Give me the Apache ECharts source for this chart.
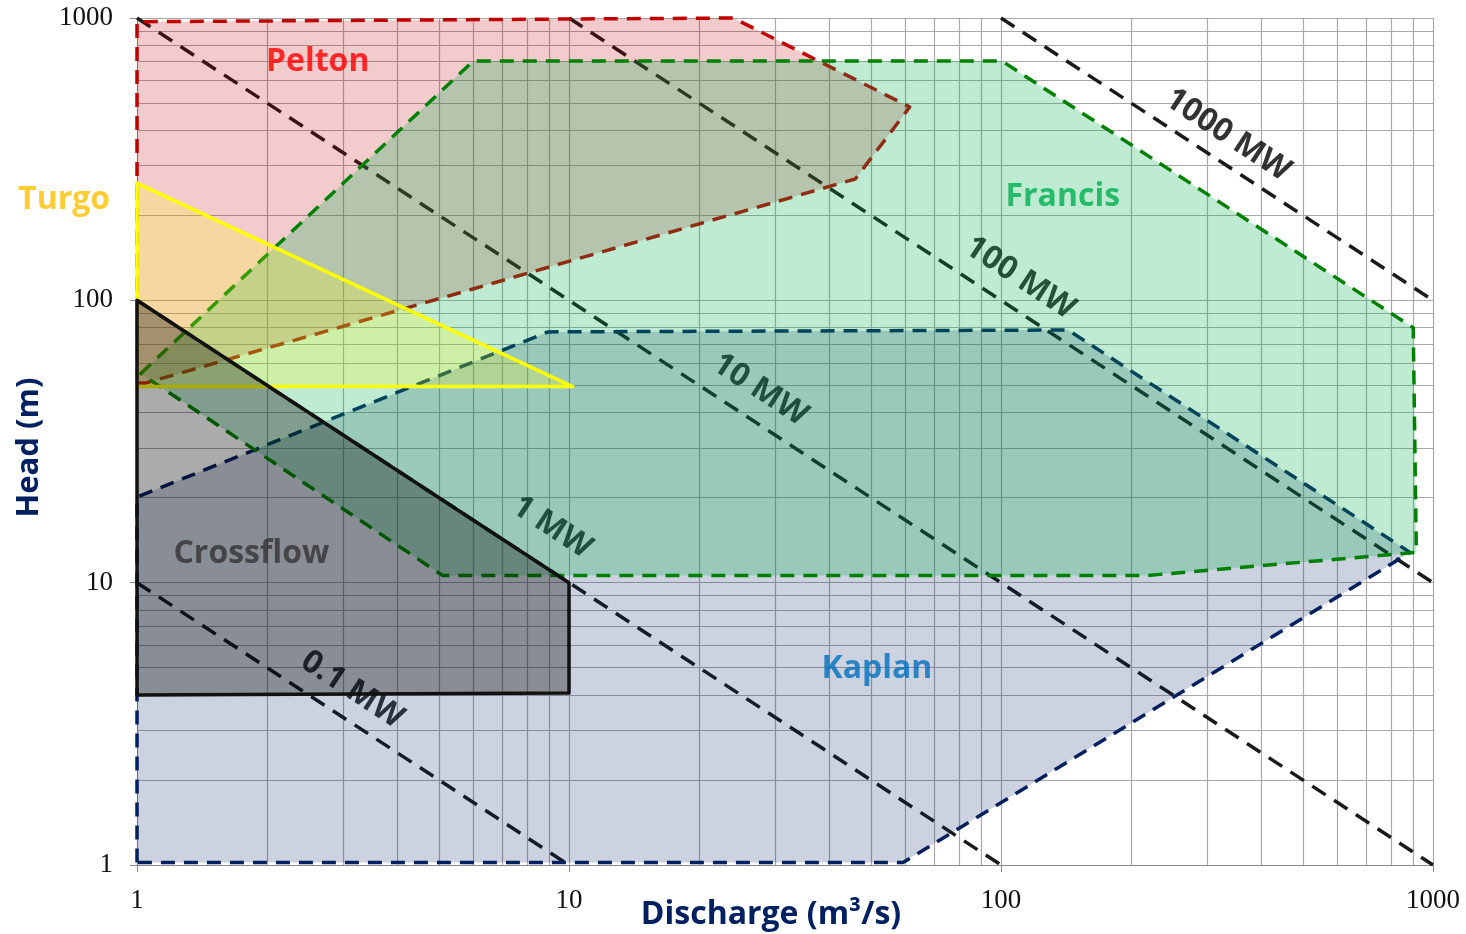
<!DOCTYPE html>
<html>
<head>
<meta charset="utf-8">
<script src="https://cdn.jsdelivr.net/npm/echarts@6/dist/echarts.min.js"></script>
<style>html,body{margin:0;padding:0;background:#fff;}#chart{width:1466px;height:934px;}</style>
</head>
<body>
<div id="chart"></div>
<script>
// Axis ticks
const xTicks = [1, 10, 100, 1000];
const yTicks = [1, 10, 100, 1000];

// Turbine regions (discharge Q in m3/s, head H in m)
const kaplanQ = [1, 1, 8.94, 143, 885, 59.3];
const kaplanH = [1.02, 20.1, 77.3, 78.5, 12.8, 1.02];
const peltonQ = [1, 1, 24, 61.5, 46, 1.05];
const peltonH = [51, 970, 1000, 484, 269, 51];
const francisQ = [1.02, 6.0, 100.5, 900, 915, 233, 218, 5.1];
const francisH = [55, 704, 704, 80, 12.8, 10.7, 10.6, 10.6];
const turgoQ = [1, 10.2, 1];
const turgoH = [260, 49.5, 49.5];
const crossflowQ = [1, 10, 10, 1];
const crossflowH = [100, 10, 4.07, 4.0];

// Power lines
const powerLabels = ['0.1 MW', '1 MW', '10 MW', '100 MW', '1000 MW'];
const powerStartQ = [1, 1, 1, 10, 100];
const powerStartH = [10, 100, 1000, 1000, 1000];
const powerEndQ = [10, 100, 1000, 1000, 1000];
const powerEndH = [1, 1, 1, 10, 100];
const powerLabelQ = [3.15, 9.13, 27.7, 110.7, 335];
const powerLabelH = [4.17, 15.7, 48.2, 120, 385];

// Region names
const regionNames = ['Pelton', 'Turgo', 'Francis', 'Crossflow', 'Kaplan'];
const regionLabelQ = [2.62, 0.678, 139, 1.84, 51.6];
const regionLabelH = [698, 226, 232, 12.6, 4.95];
const regionColors = ['#ff0000', '#ffc000', '#00b050', '#333333', '#0070c0'];

const chart = echarts.init(document.getElementById('chart'));

function polySeries(name, qs, hs, fill, stroke, width, dash, z) {
  return {
    type: 'custom', name: name, coordinateSystem: 'cartesian2d', z: z,
    silent: true, clip: false,
    data: qs.map((q, i) => [q, hs[i]]),
    renderItem: function (params, api) {
      if (params.dataIndex !== 0) return null;
      const pts = qs.map((q, i) => api.coord([q, hs[i]]));
      return {
        type: 'polygon', shape: { points: pts },
        style: { fill: fill, stroke: stroke, lineWidth: width, lineDash: dash, lineJoin: 'round' }
      };
    }
  };
}

const series = [];
powerLabels.forEach((lab, i) => {
  series.push({
    type: 'line', z: 1, symbol: 'none', silent: true,
    data: [[powerStartQ[i], powerStartH[i]], [powerEndQ[i], powerEndH[i]]],
    lineStyle: { color: '#1a1a1a', width: 3.5, type: [16, 10] }
  });
});
series.push({
  type: 'scatter', z: 1, symbolSize: 0, silent: true, clip: false,
  data: powerLabels.map((n, i) => ({ name: n, value: [powerLabelQ[i], powerLabelH[i]] })),
  label: {
    show: true, position: 'inside', rotate: -33.2, formatter: '{b}',
    fontFamily: 'Open Sans', fontWeight: 'bold', fontSize: 32, color: '#000'
  }
});
series.push(polySeries('Kaplan', kaplanQ, kaplanH, 'rgba(0,32,96,0.2)', '#002060', 3.5, [14, 9], 2));
series.push(polySeries('Pelton', peltonQ, peltonH, 'rgba(192,0,0,0.2)', '#c00000', 3.5, [14, 9], 3));
series.push(polySeries('Francis', francisQ, francisH, 'rgba(0,176,80,0.25)', '#008000', 3.5, [14, 9], 4));
series.push(polySeries('Turgo', turgoQ, turgoH, 'rgba(255,255,0,0.21)', '#ffff00', 3.5, null, 5));
series.push(polySeries('Crossflow', crossflowQ, crossflowH, 'rgba(0,0,0,0.33)', '#111111', 3.5, null, 6));
series.push({
  type: 'scatter', z: 10, symbolSize: 0, silent: true, clip: false,
  data: regionNames.map((n, i) => ({
    name: n, value: [regionLabelQ[i], regionLabelH[i]],
    label: { color: regionColors[i] }
  })),
  label: {
    show: true, position: 'inside', formatter: '{b}',
    fontFamily: 'Open Sans', fontWeight: 'bold', fontSize: 32
  }
});

const gridLine = { color: '#a8a8a8', width: 1.2 };
const tickFmt = v => String(v);
chart.setOption({
  animation: false,
  grid: { left: 137, right: 33, top: 18, bottom: 69, containLabel: false, outerBoundsMode: 'none' },
  xAxis: {
    type: 'log', logBase: 10, min: xTicks[0], max: xTicks[xTicks.length - 1],
    name: 'Discharge (m³/s)', nameLocation: 'middle', nameGap: 34, nameMoveOverlap: false,
    nameTextStyle: { fontFamily: 'Open Sans', fontWeight: 'bold', fontSize: 32, color: '#002060', padding: [0, 28, 0, 0] },
    axisLine: { show: true, lineStyle: { color: '#888', width: 1 } },
    axisTick: { show: true, length: 7, lineStyle: { color: '#888' } },
    axisLabel: { margin: 22, fontFamily: 'Liberation Serif', fontSize: 27, color: '#111', formatter: tickFmt },
    splitLine: { show: true, lineStyle: gridLine },
    minorTick: { show: false, splitNumber: 9 },
    minorSplitLine: { show: true, lineStyle: gridLine }
  },
  yAxis: {
    type: 'log', logBase: 10, min: yTicks[0], max: yTicks[yTicks.length - 1],
    name: 'Head (m)', nameLocation: 'middle', nameGap: 92, nameRotate: 90, nameMoveOverlap: false,
    nameTextStyle: { fontFamily: 'Open Sans', fontWeight: 'bold', fontSize: 31, color: '#002060', padding: [0, 12, 0, 0] },
    axisLine: { show: true, lineStyle: { color: '#888', width: 1 } },
    axisTick: { show: true, length: 7, lineStyle: { color: '#888' } },
    axisLabel: { margin: 24, fontFamily: 'Liberation Serif', fontSize: 27, color: '#111', formatter: tickFmt },
    splitLine: { show: true, lineStyle: gridLine },
    minorTick: { show: false, splitNumber: 9 },
    minorSplitLine: { show: true, lineStyle: gridLine }
  },
  series: series
});
</script>
</body>
</html>
